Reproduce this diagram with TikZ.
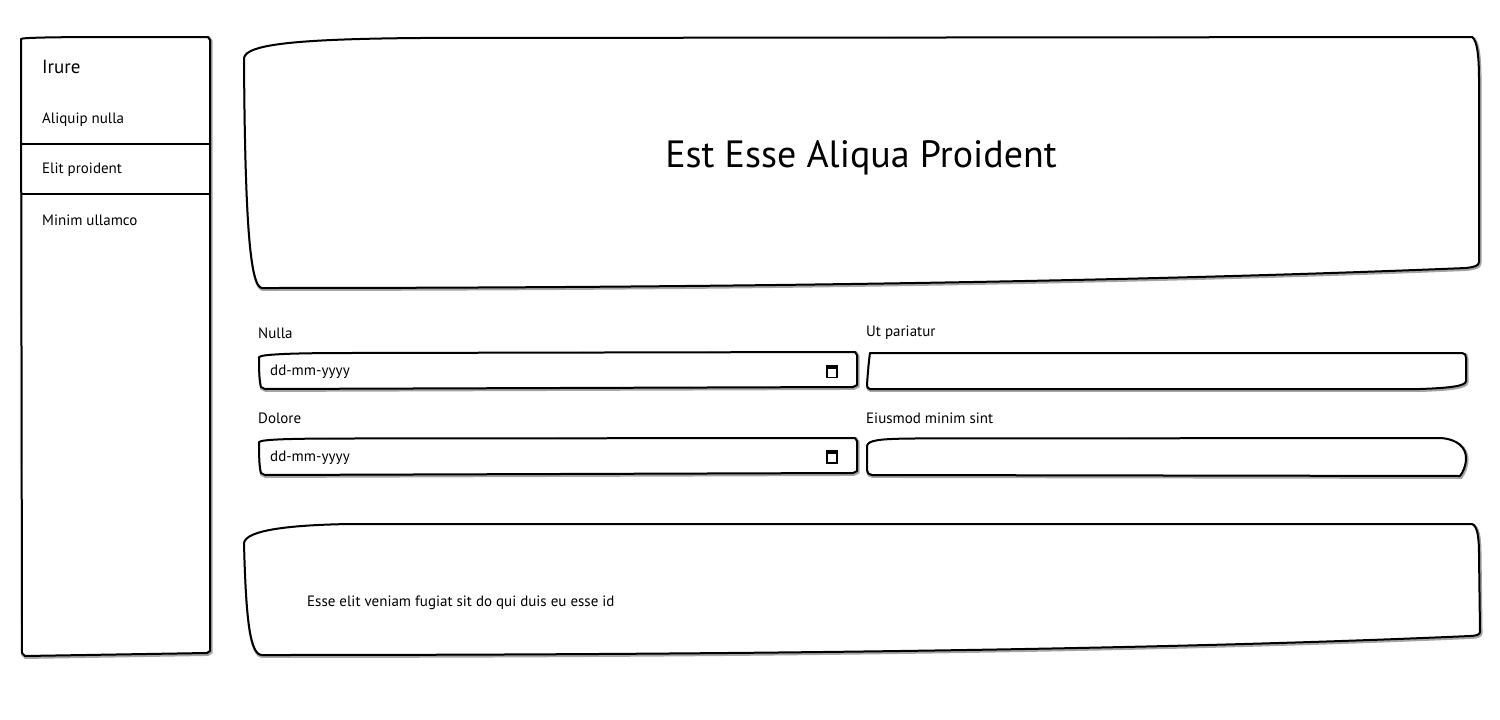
\documentclass[tikz,border=0pt]{standalone}
\usepackage{fontspec}
\setmainfont{PT Sans}
\definecolor{ink}{RGB}{0,0,0}
\definecolor{shade}{RGB}{165,165,165}

\begin{document}
\begin{tikzpicture}[x=1pt, y=1pt,
  sketch/.style={line width=2pt, draw=ink, fill=white, line join=round,
    preaction={draw=shade, line width=3.5pt, transform canvas={shift={(0.8pt,-1.2pt)}}}},
  txt/.style={inner sep=0pt, anchor=west, text=ink, font=\fontsize{15}{17}\selectfont}]
\useasboundingbox (0pt, 0pt) rectangle (1500pt, -720pt);
% sidebar
\draw [sketch] (21.0pt, -39.0pt) .. controls (21.5pt, -37.5pt) and (60.0pt, -37.0pt) .. (120.0pt, -37.0pt) -- (208.0pt, -37.0pt) -- (210.0pt, -40.0pt) -- (210.0pt, -651.0pt) -- (207.0pt, -653.0pt) -- (25.0pt, -656.0pt) -- (22.0pt, -653.0pt) -- cycle;
\draw [line width=2pt, color=ink] (21.0pt, -144.0pt) -- (210.0pt, -144.0pt);
\draw [line width=2pt, color=ink] (21.0pt, -194.0pt) -- (210.0pt, -194.0pt);
\node (1) [txt, font=\fontsize{19}{21}\selectfont] at (42.0pt, -67.0pt) {Irure};
\node (2) [txt] at (42.0pt, -120.0pt) {Aliquip nulla};
\node (3) [txt] at (42.0pt, -170.0pt) {Elit proident};
\node (4) [txt] at (42.0pt, -220.0pt) {Minim ullamco};
% header
\draw [sketch] (244.0pt, -58.0pt) .. controls (246.0pt, -44.0pt) and (300.0pt, -39.0pt) .. (420.0pt, -38.0pt) -- (1472.0pt, -37.0pt) .. controls (1477.0pt, -40.0pt) and (1479.0pt, -55.0pt) .. (1479.0pt, -80.0pt) -- (1479.0pt, -262.0pt) .. controls (1479.0pt, -266.0pt) and (1474.0pt, -267.0pt) .. (1466.0pt, -268.0pt) .. controls (1200.0pt, -279.0pt) and (800.0pt, -288.0pt) .. (262.0pt, -288.0pt) .. controls (250.0pt, -287.0pt) and (245.0pt, -220.0pt) .. (244.0pt, -58.0pt) -- cycle;
\node (5) [inner sep=0pt, text=ink, font=\fontsize{38}{44}\selectfont] at (861.0pt, -158.0pt) {Est Esse Aliqua Proident};
% form
\node (6) [txt] at (258.0pt, -333.0pt) {Nulla};
\node (7) [txt] at (866.0pt, -333.0pt) {Ut pariatur};
\node (8) [txt] at (258.0pt, -418.0pt) {Dolore};
\node (9) [txt] at (866.0pt, -418.0pt) {Eiusmod minim sint};
\draw [sketch] (259.0pt, -357.0pt) .. controls (262.0pt, -354.0pt) and (300.0pt, -353.0pt) .. (350.0pt, -353.0pt) -- (855.0pt, -352.0pt) -- (857.0pt, -355.0pt) -- (857.0pt, -385.0pt) -- (853.0pt, -387.0pt) -- (265.0pt, -389.0pt) -- (261.0pt, -387.0pt) .. controls (259.0pt, -380.0pt) and (259.0pt, -365.0pt) .. (259.0pt, -357.0pt) -- cycle;
\node (10) [txt] at (270.0pt, -372.0pt) {dd-mm-yyyy};
\draw [line width=1.2pt, color=ink] (827.0pt, -365.5pt) rectangle (837.0pt, -377.5pt);
\fill [ink] (827.0pt, -365.5pt) rectangle (837.0pt, -368.5pt);
\draw [sketch] (259.0pt, -442.0pt) .. controls (262.0pt, -439.0pt) and (300.0pt, -438.5pt) .. (350.0pt, -438.5pt) -- (855.0pt, -438.0pt) -- (857.0pt, -441.0pt) -- (857.0pt, -471.0pt) -- (853.0pt, -473.0pt) -- (265.0pt, -475.0pt) -- (261.0pt, -473.0pt) .. controls (259.0pt, -466.0pt) and (259.0pt, -451.0pt) .. (259.0pt, -442.0pt) -- cycle;
\node (11) [txt] at (270.0pt, -458.0pt) {dd-mm-yyyy};
\draw [line width=1.2pt, color=ink] (827.0pt, -451.0pt) rectangle (837.0pt, -463.0pt);
\fill [ink] (827.0pt, -451.0pt) rectangle (837.0pt, -454.0pt);
\draw [sketch] (870.0pt, -353.0pt) -- (1462.0pt, -353.0pt) .. controls (1465.0pt, -353.0pt) and (1466.0pt, -355.0pt) .. (1466.0pt, -358.0pt) -- (1466.0pt, -381.0pt) .. controls (1466.0pt, -386.0pt) and (1450.0pt, -388.0pt) .. (1420.0pt, -389.0pt) -- (870.0pt, -389.0pt) .. controls (868.0pt, -389.0pt) and (867.0pt, -387.0pt) .. (867.0pt, -385.0pt) .. controls (868.0pt, -370.0pt) and (869.0pt, -360.0pt) .. (870.0pt, -353.0pt) -- cycle;
\draw [sketch] (867.0pt, -446.0pt) .. controls (868.0pt, -440.0pt) and (880.0pt, -439.0pt) .. (910.0pt, -438.5pt) -- (1440.0pt, -438.0pt) .. controls (1458.0pt, -439.0pt) and (1466.0pt, -448.0pt) .. (1466.0pt, -458.0pt) .. controls (1466.0pt, -466.0pt) and (1463.0pt, -472.0pt) .. (1460.0pt, -476.0pt) -- (872.0pt, -475.0pt) .. controls (869.0pt, -475.0pt) and (867.0pt, -473.0pt) .. (867.0pt, -470.0pt) -- cycle;
% footer card
\draw [sketch] (244.0pt, -543.0pt) .. controls (246.0pt, -530.0pt) and (290.0pt, -525.0pt) .. (350.0pt, -524.0pt) -- (1472.0pt, -524.0pt) .. controls (1477.0pt, -526.0pt) and (1479.0pt, -535.0pt) .. (1479.0pt, -555.0pt) -- (1480.0pt, -632.0pt) .. controls (1480.0pt, -634.0pt) and (1477.0pt, -636.0pt) .. (1470.0pt, -636.0pt) .. controls (1200.0pt, -648.0pt) and (800.0pt, -655.0pt) .. (262.0pt, -655.0pt) .. controls (250.0pt, -655.0pt) and (246.0pt, -620.0pt) .. (244.0pt, -543.0pt) -- cycle;
\node (12) [txt] at (307.0pt, -603.0pt) {Esse elit veniam fugiat sit do qui duis eu esse id};
\end{tikzpicture}
\end{document}
